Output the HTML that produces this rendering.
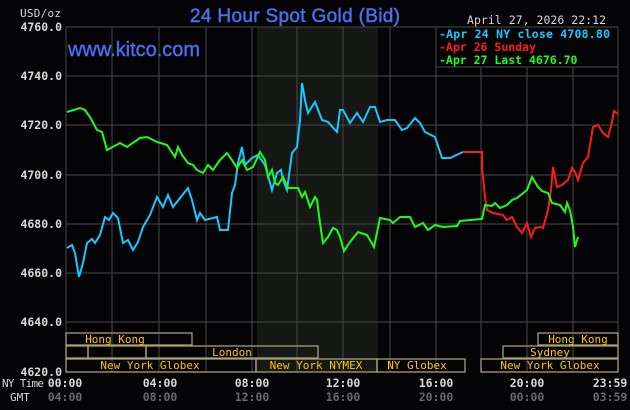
<!DOCTYPE html>
<html><head><style>
html,body{margin:0;padding:0;background:#040406;}
svg{display:block;}
text{font-family:"DejaVu Sans Mono","Liberation Mono",monospace;}
</style></head><body>
<svg width="630" height="410" viewBox="0 0 630 410" xmlns="http://www.w3.org/2000/svg">
<rect width="630" height="410" fill="#040406"/>
<rect x="257" y="27" width="121" height="345" fill="#151815"/>
<g stroke="#474747" stroke-width="1">
<line x1="66" y1="27" x2="66" y2="372"/>
<line x1="112" y1="27" x2="112" y2="372"/>
<line x1="159" y1="27" x2="159" y2="372"/>
<line x1="206" y1="27" x2="206" y2="372"/>
<line x1="252" y1="27" x2="252" y2="372"/>
<line x1="297" y1="27" x2="297" y2="372"/>
<line x1="343" y1="27" x2="343" y2="372"/>
<line x1="390" y1="27" x2="390" y2="372"/>
<line x1="436" y1="27" x2="436" y2="372"/>
<line x1="481" y1="67" x2="481" y2="372"/>
<line x1="527" y1="67" x2="527" y2="372"/>
<line x1="573" y1="67" x2="573" y2="372"/>
<line x1="618" y1="27" x2="618" y2="372"/>
<line x1="66" y1="27" x2="618" y2="27"/>
<line x1="66" y1="76" x2="618" y2="76"/>
<line x1="66" y1="125" x2="618" y2="125"/>
<line x1="66" y1="175" x2="618" y2="175"/>
<line x1="66" y1="224" x2="618" y2="224"/>
<line x1="66" y1="273" x2="618" y2="273"/>
<line x1="66" y1="322" x2="618" y2="322"/>
<line x1="436" y1="67" x2="618" y2="67"/>
</g>
<rect x="437" y="28" width="180" height="38" fill="#040406"/>
<g font-size="11.5" fill="#d8d8d8" text-anchor="end" font-weight="bold">
<text x="62" y="31">4760.0</text>
<text x="62" y="80">4740.0</text>
<text x="62" y="129">4720.0</text>
<text x="62" y="179">4700.0</text>
<text x="62" y="228">4680.0</text>
<text x="62" y="277">4660.0</text>
<text x="62" y="326">4640.0</text>
<text x="62" y="376">4620.0</text>
</g>
<text x="20" y="17" font-size="11" fill="#d8d8d8" textLength="41">USD/oz</text>
<text x="295" y="22" font-size="19" fill="#4a6ef0" text-anchor="middle" stroke="#4a6ef0" stroke-width="0.5" style="font-family:'Liberation Sans',sans-serif" textLength="210">24 Hour Spot Gold (Bid)</text>
<text x="68" y="56" font-size="20" fill="#4a6ef0" stroke="#4a6ef0" stroke-width="0.4" style="font-family:'Liberation Sans',sans-serif" textLength="132">www.kitco.com</text>
<text x="467" y="24" font-size="11.5" fill="#d8d8d8" textLength="139">April 27, 2026 22:12</text>
<g font-size="11.5" font-weight="bold">
<text x="439" y="38" fill="#19c8ff" textLength="171">-Apr 24 NY close 4708.80</text>
<text x="439" y="51" fill="#ff1a1a">-Apr 26 Sunday</text>
<text x="439" y="64" fill="#19ff19">-Apr 27 Last 4676.70</text>
</g>
<g stroke="#a8a070" stroke-width="1.3" fill="none">
<rect x="66" y="333" width="126" height="12"/>
<rect x="538" y="333" width="80" height="12"/>
<rect x="66" y="346" width="22" height="12"/>
<rect x="88" y="346" width="58" height="12"/>
<rect x="146" y="346" width="172" height="12"/>
<rect x="503" y="346" width="115" height="12"/>
<rect x="66" y="359" width="190" height="13"/>
<rect x="256" y="359" width="121" height="13"/>
<rect x="377" y="359" width="88" height="13"/>
<rect x="481" y="359" width="137" height="13"/>
</g>
<g font-size="11" fill="#ffc800" text-anchor="middle">
<text x="115" y="343">Hong Kong</text>
<text x="578" y="343">Hong Kong</text>
<text x="232" y="356">London</text>
<text x="550" y="356">Sydney</text>
<text x="150" y="369">New York Globex</text>
<text x="316" y="369">New York NYMEX</text>
<text x="417" y="369">NY Globex</text>
<text x="550" y="369">New York Globex</text>
</g>
<g font-size="11" fill="#d8d8d8">
<text x="2" y="387" textLength="42">NY Time</text>
<text x="10" y="401">GMT</text>
</g>
<g font-size="11.5" fill="#d8d8d8" text-anchor="middle" font-weight="bold">
<text x="65" y="387">00:00</text><text x="160" y="387">04:00</text><text x="252" y="387">08:00</text><text x="343" y="387">12:00</text><text x="436" y="387">16:00</text><text x="527" y="387">20:00</text><text x="610" y="387">23:59</text>
</g>
<g font-size="11.5" fill="#6a6a6a" text-anchor="middle" font-weight="bold">
<text x="65" y="401">04:00</text><text x="160" y="401">08:00</text><text x="252" y="401">12:00</text><text x="343" y="401">16:00</text><text x="436" y="401">20:00</text><text x="527" y="401">00:00</text><text x="610" y="401">03:59</text>
</g>
<g fill="none" stroke-width="2" stroke-linejoin="miter">
<polyline stroke="#19c8ff" points="67,248 72,245 75,253 79,277 83,263 87,243 92,239 95,243 100,235 105,217 109,220 113,213 118,218 123,243 128,240 133,250 138,242 143,227 150,215 157,197 163,207 168,195 173,207 180,198 188,188 192,200 197,220 200,213 205,220 217,217 220,230 228,230 232,193 235,185 238,163 242,147 245,165 252,158 258,155 265,165 272,190 277,173 281,170 283,180 287,190 292,153 297,147 300,120 302,83 305,100 308,113 315,102 322,120 328,122 337,132 340,110 343,110 350,123 357,113 363,122 370,107 375,107 380,122 387,120 395,120 402,130 407,128 415,118 420,123 425,132 435,137 442,158 450,158 463,152"/>
<polyline stroke="#ff1a1a" points="463,152 482,152 482,167 485,197 487,210 493,213 503,215 507,220 512,217 517,227 522,233 527,223 531,237 535,228 540,227 543,228 548,210 551,190 553,167 557,187 562,185 568,180 572,168 575,172 578,180 583,163 588,157 593,127 598,125 603,133 608,137 612,122 614,111 618,114"/>
<polyline stroke="#19ff19" points="67,112 80,108 85,110 90,117 97,130 102,132 107,150 120,143 127,147 140,138 147,137 157,142 167,145 175,157 178,147 182,155 188,163 193,165 197,170 203,173 208,165 213,170 220,160 227,153 232,160 237,168 242,160 247,170 253,167 260,152 265,160 268,177 272,170 275,183 278,185 283,177 288,188 298,188 302,197 305,192 310,207 315,197 317,200 320,223 323,243 328,237 333,228 337,230 340,237 344,251 350,242 358,232 367,235 374,247 380,218 390,220 393,223 400,217 410,217 415,227 423,223 428,230 435,225 443,227 457,226 460,221 482,219 485,205 492,206 495,203 500,208 507,205 512,200 517,198 527,190 532,177 538,187 542,191 548,193 552,203 560,205 565,212 567,203 570,210 573,227 575,247 578,237"/>
</g>
</svg>
</body></html>
